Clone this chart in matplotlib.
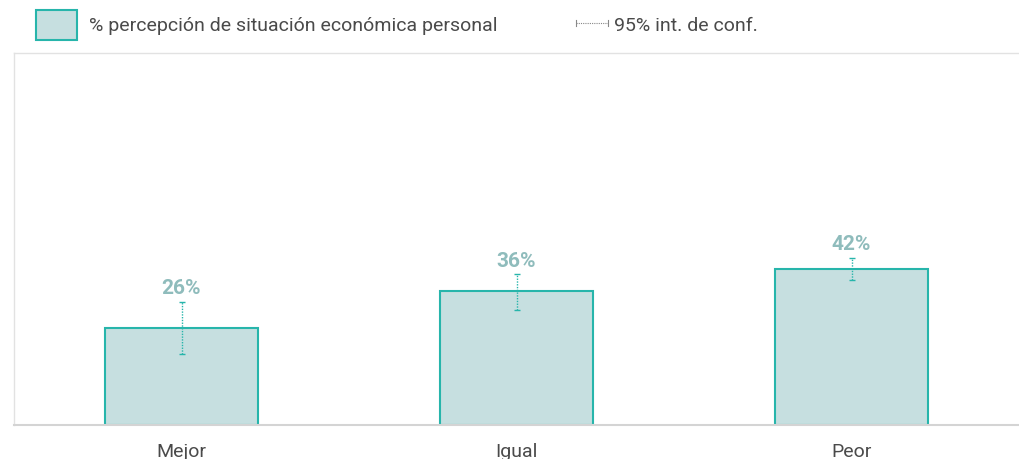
import matplotlib.pyplot as plt
from matplotlib.patches import Rectangle
from matplotlib.lines import Line2D

plt.rcParams['font.family'] = ['Roboto', 'DejaVu Sans']

# Percepción de situación económica personal
categorias = ['Mejor', 'Igual', 'Peor']
porcentajes = [26, 36, 42]
ic_inferior = [19, 31, 39]
ic_superior = [33, 40.5, 45]

FILL = '#c6dfe0'
EDGE = '#27b5ab'
LABEL = '#8fbcbc'
TEXT = '#4a4a4a'

fig = plt.figure(figsize=(10.19, 4.6), dpi=100)
ax = fig.add_axes([14 / 1019, 34 / 460, 1005 / 1019, 372 / 460])

x = list(range(len(categorias)))
ax.bar(x, porcentajes, width=0.455, color=FILL, edgecolor=EDGE, linewidth=1.5, zorder=2)

err_low = [p - lo for p, lo in zip(porcentajes, ic_inferior)]
err_high = [hi - p for p, hi in zip(porcentajes, ic_superior)]
eb = ax.errorbar(x, porcentajes, yerr=[err_low, err_high], fmt='none',
                 ecolor=EDGE, elinewidth=1.0, capsize=2, capthick=1.0, zorder=3)
eb[2][0].set_linestyle((0, (1, 1)))

for xi, p, hi in zip(x, porcentajes, ic_superior):
    ax.text(xi, hi + 1.3, f'{p}%', ha='center', va='bottom', fontsize=15,
            fontweight='bold', color=LABEL)

ax.set_xlim(-0.5, 2.5)
ax.set_ylim(0, 100)
ax.set_yticks([])
ax.set_xticks(x)
ax.set_xticklabels(categorias, fontsize=14, color=TEXT)
ax.tick_params(axis='x', length=0, pad=12)
for side in ['top', 'left']:
    ax.spines[side].set_color('#e2e2e2')
    ax.spines[side].set_linewidth(1)
ax.spines['right'].set_visible(False)
ax.spines['bottom'].set_color('#d4d4d4')
ax.spines['bottom'].set_linewidth(1.5)

# leyenda
fig.patches.append(Rectangle((36 / 1019, 1 - 41 / 460), 41 / 1019, 30 / 460,
                             transform=fig.transFigure, facecolor=FILL,
                             edgecolor=EDGE, linewidth=1.5))
fig.text(89 / 1019, 1 - 26 / 460, '% percepción de situación económica personal',
         fontsize=14, color=TEXT, va='center')
yl = 1 - 24 / 460
fig.lines.append(Line2D([576 / 1019, 608 / 1019], [yl, yl], transform=fig.transFigure,
                        color='#888888', linewidth=0.8, linestyle=(0, (1, 1))))
for xc in (576, 608):
    fig.lines.append(Line2D([xc / 1019, xc / 1019], [yl - 3 / 460, yl + 3 / 460],
                            transform=fig.transFigure, color='#888888', linewidth=0.8))
fig.text(614 / 1019, 1 - 26 / 460, '95% int. de conf.', fontsize=14,
         color=TEXT, va='center')

fig.savefig('out.png', dpi=100)
